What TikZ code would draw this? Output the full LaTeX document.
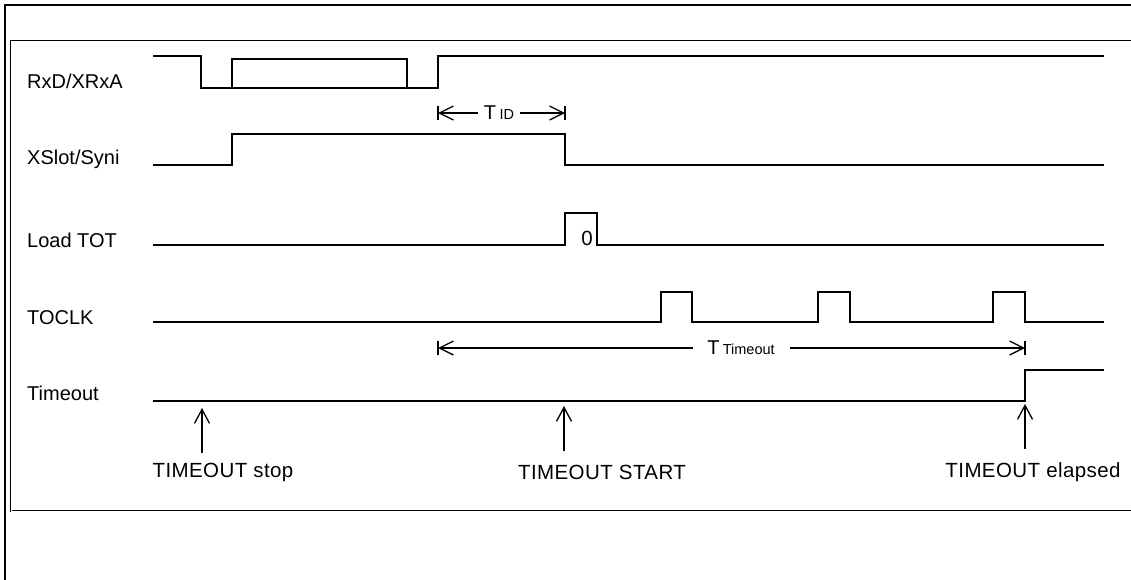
\documentclass[tikz,border=0pt]{standalone}
\usepackage{fontspec}
\setmainfont{Liberation Sans}
\usetikzlibrary{arrows.meta}
\begin{document}
\begin{tikzpicture}[x=1pt,y=-1pt,
  sig/.style={line width=1.6pt, line join=miter},
  lbl/.style={anchor=west, inner sep=0pt, font=\fontsize{20}{24}\selectfont},
  note/.style={inner sep=0pt, font=\fontsize{20.5}{24}\selectfont\addfontfeature{LetterSpace=2}},
  dimtxt/.style={fill=white, inner sep=0pt, font=\fontsize{20}{24}\selectfont},
  dimline/.style={line width=1.3pt, {Straight Barb[length=14pt,width=14pt]}-{Straight Barb[length=14pt,width=14pt]}},
  dimbar/.style={line width=1.3pt},
  up/.style={line width=1.3pt, -{Straight Barb[length=14pt,width=15pt]}},
  frameout/.style={line width=2pt},
  framein/.style={line width=0.9pt, double, double distance=0.7pt},
]
\useasboundingbox (0,0) rectangle (1131,579);
\begin{scope}
\clip (0,0) rectangle (1131,579);
% frames
\draw[frameout] (5,590) -- (5,5) -- (1140,5);
\draw[framein] (1140,41) -- (11,41) -- (11,511) -- (1140,511);
\end{scope}

% signal labels
\node[lbl] (lrxd) at (27,81) {RxD/XRxA};
\node[lbl] (lxs) at (27,159) {XSlot/Syni};
\node[lbl] (lload) at (27,240) {Load TOT};
\node[lbl] (lclk) at (27,318) {TOCLK};
\node[lbl] (ltmo) at (27,393) {Timeout};

% waveforms
\draw[sig] (153,56) -- (201,56) -- (201,88) -- (438,88) -- (438,56) -- (1104,56);
\draw[sig] (232,59) rectangle (407,88);
\draw[sig] (153,165) -- (232,165) -- (232,134) -- (565,134) -- (565,165) -- (1104,165);
\draw[sig] (153,245) -- (565,245) -- (565,213) -- (597,213) -- (597,245) -- (1104,245);
\node[note] (zero) at (587,238) {0};
\draw[sig] (153,322) -- (661,322) -- (661,292) -- (692,292) -- (692,322)
  -- (818,322) -- (818,292) -- (850,292) -- (850,322)
  -- (993,322) -- (993,292) -- (1025,292) -- (1025,322) -- (1104,322);
\draw[sig] (153,401) -- (1025,401) -- (1025,370) -- (1104,370);

% T_ID dimension
\coordinate (tidL) at (438,113);
\coordinate (tidR) at (565,113);
\draw[dimline] (tidL) -- (tidR);
\draw[dimbar] ([yshift=-7pt]tidL) -- ([yshift=7pt]tidL);
\draw[dimbar] ([yshift=-7pt]tidR) -- ([yshift=7pt]tidR);
\node[dimtxt, minimum width=42pt, minimum height=16pt] (tid) at (499,113) {T\,{\fontsize{14.5}{15}\selectfont ID}};

% T_Timeout dimension
\coordinate (ttoL) at (438,348);
\coordinate (ttoR) at (1025,348);
\draw[dimline] (ttoL) -- (ttoR);
\draw[dimbar] ([yshift=-7pt]ttoL) -- ([yshift=7pt]ttoL);
\draw[dimbar] ([yshift=-7pt]ttoR) -- ([yshift=7pt]ttoR);
\node[dimtxt, minimum width=97pt, minimum height=16pt] (tto) at (741,348) {T\,{\fontsize{14.5}{15}\selectfont Timeout}};

% event markers
\coordinate (s1) at (202,453); \coordinate (s1t) at (202,408);
\coordinate (s2) at (564,451); \coordinate (s2t) at (564,406);
\coordinate (s3) at (1025,449); \coordinate (s3t) at (1025,404);
\draw[up] (s1) -- (s1t);
\draw[up] (s2) -- (s2t);
\draw[up] (s3) -- (s3t);
\node[note] (stop) at (223,472) {TIMEOUT stop};
\node[note] (start) at (602,472) {TIMEOUT START};
\node[note] (elap) at (1033,472) {TIMEOUT elapsed};
\end{tikzpicture}
\end{document}
